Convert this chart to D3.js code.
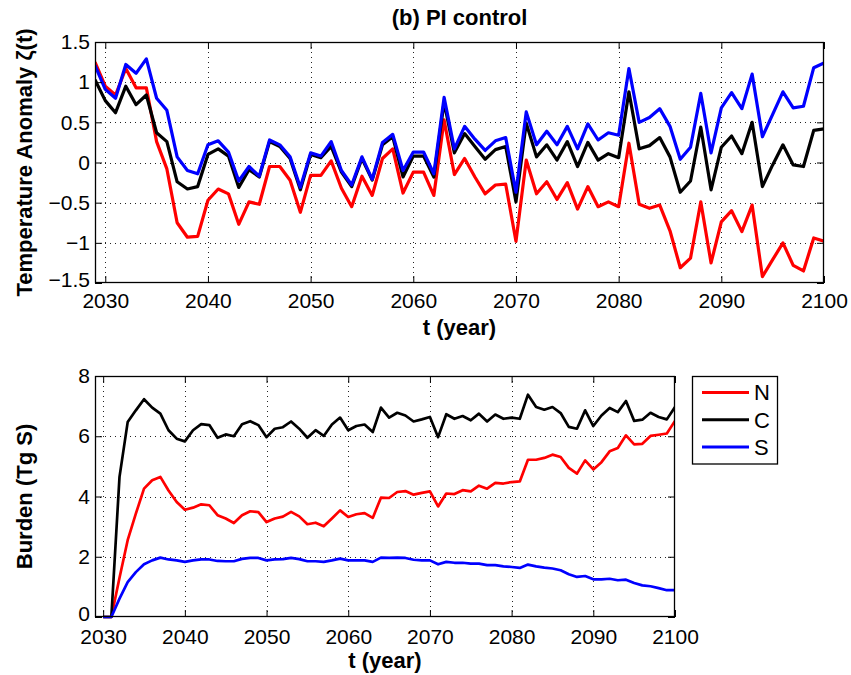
<!DOCTYPE html>
<html>
<head>
<meta charset="utf-8">
<script src="https://cdn.jsdelivr.net/npm/d3@7"></script>
<style>
  body { margin: 0; background: #fff; }
  svg { display: block; }
  text { font-family: "Liberation Sans", Arial, Helvetica, sans-serif; fill: #000; }
</style>
</head>
<body>
<svg id="chart" width="851" height="675"></svg>
<script>
// ---------------- data ----------------
const seriesNames = ["N", "C", "S"];
const seriesColors = ["#ff0000", "#000000", "#0000ff"];

const tempYears = d3.range(2029, 2101);
const tempN = [1.25, 0.95, 0.84, 1.17, 0.93, 0.93, 0.26, -0.08, -0.75, -0.93, -0.92, -0.47, -0.33, -0.39, -0.77, -0.49, -0.52, -0.05, -0.05, -0.22, -0.62, -0.16, -0.16, 0.02, -0.32, -0.55, -0.17, -0.41, 0.05, 0.17, -0.38, -0.12, -0.12, -0.41, 0.53, -0.15, 0.05, -0.18, -0.39, -0.28, -0.27, -0.98, 0.03, -0.39, -0.24, -0.46, -0.25, -0.58, -0.30, -0.55, -0.49, -0.55, 0.24, -0.52, -0.57, -0.53, -0.85, -1.31, -1.19, -0.49, -1.25, -0.74, -0.60, -0.86, -0.53, -1.42, -1.21, -1.00, -1.28, -1.35, -0.94, -0.98];
const tempC = [1.03, 0.77, 0.62, 0.95, 0.72, 0.84, 0.37, 0.26, -0.24, -0.33, -0.30, 0.10, 0.17, 0.08, -0.31, -0.09, -0.18, 0.26, 0.20, 0.05, -0.34, 0.10, 0.06, 0.20, -0.12, -0.30, 0.05, -0.22, 0.22, 0.32, -0.18, 0.08, 0.08, -0.18, 0.75, 0.12, 0.36, 0.20, 0.04, 0.16, 0.20, -0.49, 0.49, 0.07, 0.22, 0.03, 0.26, -0.05, 0.25, 0.03, 0.11, 0.06, 0.88, 0.17, 0.21, 0.31, 0.07, -0.37, -0.23, 0.44, -0.34, 0.19, 0.33, 0.11, 0.50, -0.30, -0.03, 0.22, -0.03, -0.05, 0.40, 0.42];
const tempS = [1.21, 0.91, 0.80, 1.22, 1.11, 1.29, 0.80, 0.65, 0.07, -0.10, -0.14, 0.22, 0.27, 0.13, -0.23, -0.05, -0.17, 0.28, 0.22, 0.07, -0.31, 0.12, 0.08, 0.26, -0.10, -0.28, 0.07, -0.21, 0.25, 0.35, -0.10, 0.13, 0.13, -0.14, 0.81, 0.17, 0.45, 0.29, 0.15, 0.27, 0.31, -0.37, 0.63, 0.22, 0.39, 0.22, 0.45, 0.17, 0.48, 0.28, 0.37, 0.34, 1.17, 0.50, 0.56, 0.67, 0.45, 0.04, 0.19, 0.86, 0.12, 0.68, 0.87, 0.67, 1.10, 0.32, 0.60, 0.88, 0.68, 0.70, 1.18, 1.24];

const burdenYears = d3.range(2030, 2101);
const burdenN = [0, 0, 1.30, 2.55, 3.43, 4.26, 4.54, 4.65, 4.20, 3.82, 3.56, 3.63, 3.74, 3.71, 3.38, 3.27, 3.12, 3.38, 3.51, 3.48, 3.15, 3.27, 3.33, 3.49, 3.34, 3.08, 3.13, 3.01, 3.27, 3.54, 3.32, 3.41, 3.45, 3.29, 3.96, 3.95, 4.15, 4.18, 4.06, 4.12, 4.17, 3.67, 4.10, 4.08, 4.21, 4.17, 4.36, 4.26, 4.45, 4.43, 4.48, 4.50, 5.22, 5.22, 5.28, 5.39, 5.31, 4.95, 4.76, 5.20, 4.90, 5.14, 5.50, 5.61, 6.03, 5.73, 5.75, 6.01, 6.05, 6.09, 6.51];
const burdenC = [0, 0, 4.65, 6.47, 6.86, 7.23, 6.95, 6.75, 6.20, 5.92, 5.83, 6.20, 6.40, 6.37, 5.95, 6.06, 6.00, 6.40, 6.50, 6.37, 5.97, 6.25, 6.30, 6.49, 6.25, 5.95, 6.20, 6.01, 6.39, 6.62, 6.20, 6.34, 6.39, 6.14, 6.95, 6.62, 6.78, 6.69, 6.49, 6.56, 6.64, 5.97, 6.73, 6.58, 6.67, 6.53, 6.75, 6.49, 6.72, 6.58, 6.62, 6.58, 7.38, 6.97, 6.88, 6.97, 6.77, 6.31, 6.25, 6.86, 6.34, 6.69, 6.94, 6.80, 7.17, 6.51, 6.55, 6.78, 6.64, 6.56, 6.97];
const burdenS = [0, 0, 0.61, 1.16, 1.49, 1.75, 1.88, 1.97, 1.91, 1.88, 1.83, 1.88, 1.91, 1.91, 1.86, 1.85, 1.85, 1.93, 1.96, 1.96, 1.88, 1.91, 1.92, 1.96, 1.92, 1.85, 1.85, 1.83, 1.88, 1.94, 1.88, 1.88, 1.88, 1.83, 1.97, 1.96, 1.97, 1.96, 1.90, 1.88, 1.88, 1.75, 1.83, 1.80, 1.80, 1.77, 1.77, 1.72, 1.72, 1.68, 1.66, 1.63, 1.74, 1.68, 1.64, 1.61, 1.55, 1.42, 1.33, 1.36, 1.25, 1.25, 1.27, 1.22, 1.24, 1.13, 1.05, 1.02, 0.96, 0.89, 0.89];

const xTicks = [2030, 2040, 2050, 2060, 2070, 2080, 2090, 2100];
const tempYTicks = [-1.5, -1, -0.5, 0, 0.5, 1, 1.5];
const tempYTickLabels = ["\u22121.5", "\u22121", "\u22120.5", "0", "0.5", "1", "1.5"];
const burdenYTicks = [0, 2, 4, 6, 8];
const burdenYTickLabels = ["0", "2", "4", "6", "8"];

const titleText = "(b) PI control";
const xLabelText = "t (year)";
const tempYLabel = "Temperature Anomaly \u03B6(t)";
const burdenYLabel = "Burden (Tg S)";

// ---------------- drawing ----------------
const svg = d3.select("#chart");
const TICK_FONT = 21, LABEL_FONT = 22;

function panel(cfg) {
  const { x0, x1, y0, y1, xDomain, yDomain, yTicks, yTickLabels, years, series, lineWidth, xPad } = cfg;
  const x = d3.scaleLinear().domain(xDomain).range([x0, x1]);
  const y = d3.scaleLinear().domain(yDomain).range([y1, y0]);
  const g = svg.append("g");

  // grid
  const grid = g.append("g").attr("stroke", "#222").attr("stroke-width", 1).attr("stroke-dasharray", "1,4");
  grid.selectAll("line.gx").data(xTicks.filter(t => x(t) > x0 + 1 && x(t) < x1 - 1)).enter().append("line")
    .attr("x1", d => Math.round(x(d)) + 0.5).attr("x2", d => Math.round(x(d)) + 0.5)
    .attr("y1", y0).attr("y2", y1);
  grid.selectAll("line.gy").data(yTicks.filter(t => y(t) > y0 + 1 && y(t) < y1 - 1)).enter().append("line")
    .attr("y1", d => Math.round(y(d)) + 0.5).attr("y2", d => Math.round(y(d)) + 0.5)
    .attr("x1", x0).attr("x2", x1);

  // lines
  const clipId = "clip" + Math.round(y0);
  g.append("clipPath").attr("id", clipId).append("rect")
    .attr("x", x0).attr("y", y0 - 2).attr("width", x1 - x0).attr("height", y1 - y0 + 4);
  const lineGen = d3.line().x((d, i) => x(years[i])).y(d => y(d));
  const lg = g.append("g").attr("clip-path", `url(#${clipId})`);
  series.forEach((vals, k) => {
    lg.append("path").datum(vals).attr("d", lineGen)
      .attr("fill", "none").attr("stroke", seriesColors[k])
      .attr("stroke-width", lineWidth).attr("stroke-linejoin", "round").attr("stroke-linecap", "butt");
  });

  // axes (ticks inside, MATLAB-like box)
  const fmtY = d => yTickLabels[yTicks.indexOf(d)];
  const ax = g.append("g").attr("transform", `translate(0,${y1})`)
    .call(d3.axisBottom(x).tickValues(xTicks).tickFormat(d3.format("d")).tickSizeInner(-7).tickSizeOuter(0).tickPadding(xPad));
  const ay = g.append("g").attr("transform", `translate(${x0},0)`)
    .call(d3.axisLeft(y).tickValues(yTicks).tickFormat(fmtY).tickSizeInner(-7).tickSizeOuter(0).tickPadding(5));
  const at = g.append("g").attr("transform", `translate(0,${y0})`)
    .call(d3.axisTop(x).tickValues(xTicks).tickFormat("").tickSizeInner(-7).tickSizeOuter(0));
  const ar = g.append("g").attr("transform", `translate(${x1},0)`)
    .call(d3.axisRight(y).tickValues(yTicks).tickFormat("").tickSizeInner(-7).tickSizeOuter(0));
  [ax, ay, at, ar].forEach(a => {
    a.select(".domain").remove();
    a.selectAll("line").attr("stroke", "#000").attr("stroke-width", 1);
    a.selectAll("text").attr("font-size", TICK_FONT).attr("fill", "#000")
      .attr("font-family", "'Liberation Sans', Arial, sans-serif");
  });
  // lift the lowest y label slightly so it clears the first x label
  ay.selectAll(".tick text").filter(d => d === yDomain[0]).attr("dy", "0.15em");

  g.append("rect").attr("x", x0 + 0.5).attr("y", y0 + 0.5)
    .attr("width", x1 - x0 - 1).attr("height", y1 - y0 - 1)
    .attr("fill", "none").attr("stroke", "#000").attr("stroke-width", 1.3);
  return { x, y };
}

const topBox = { x0: 95, x1: 824, y0: 42, y1: 283 };
panel({ ...topBox, xDomain: [2029, 2100], yDomain: [-1.5, 1.5], yTicks: tempYTicks, yTickLabels: tempYTickLabels,
  years: tempYears, series: [tempN, tempC, tempS], lineWidth: 3.2, xPad: 10 });

const botBox = { x0: 95, x1: 675, y0: 376, y1: 617 };
panel({ ...botBox, xDomain: [2029, 2100], yDomain: [0, 8], yTicks: burdenYTicks, yTickLabels: burdenYTickLabels,
  years: burdenYears, series: [burdenN, burdenC, burdenS], lineWidth: 2.7, xPad: 12 });

// titles and labels
svg.append("text").attr("x", (topBox.x0 + topBox.x1) / 2).attr("y", 25).attr("text-anchor", "middle")
  .attr("font-size", LABEL_FONT).attr("font-weight", "bold").text(titleText);
svg.append("text").attr("x", (topBox.x0 + topBox.x1) / 2).attr("y", 335).attr("text-anchor", "middle")
  .attr("font-size", LABEL_FONT).attr("font-weight", "bold").text(xLabelText);
svg.append("text").attr("x", (botBox.x0 + botBox.x1) / 2).attr("y", 668).attr("text-anchor", "middle")
  .attr("font-size", LABEL_FONT).attr("font-weight", "bold").text(xLabelText);
svg.append("text").attr("transform", `translate(32,${(topBox.y0 + topBox.y1) / 2}) rotate(-90)`).attr("text-anchor", "middle")
  .attr("font-size", LABEL_FONT).attr("font-weight", "bold").text(tempYLabel);
svg.append("text").attr("transform", `translate(32,${(botBox.y0 + botBox.y1) / 2}) rotate(-90)`).attr("text-anchor", "middle")
  .attr("font-size", LABEL_FONT).attr("font-weight", "bold").text(burdenYLabel);

// legend
const leg = svg.append("g");
leg.append("rect").attr("x", 692.5).attr("y", 376.5).attr("width", 85).attr("height", 87.5)
  .attr("fill", "#fff").attr("stroke", "#000").attr("stroke-width", 1.3);
const legY = d3.scalePoint().domain(seriesNames).range([392.5, 447]);
seriesNames.forEach((name, k) => {
  leg.append("line").attr("x1", 702).attr("x2", 749).attr("y1", legY(name)).attr("y2", legY(name))
    .attr("stroke", seriesColors[k]).attr("stroke-width", 3);
  leg.append("text").attr("x", 754).attr("y", legY(name)).attr("dy", "0.36em")
    .attr("font-size", LABEL_FONT).text(name);
});
</script>
</body>
</html>
